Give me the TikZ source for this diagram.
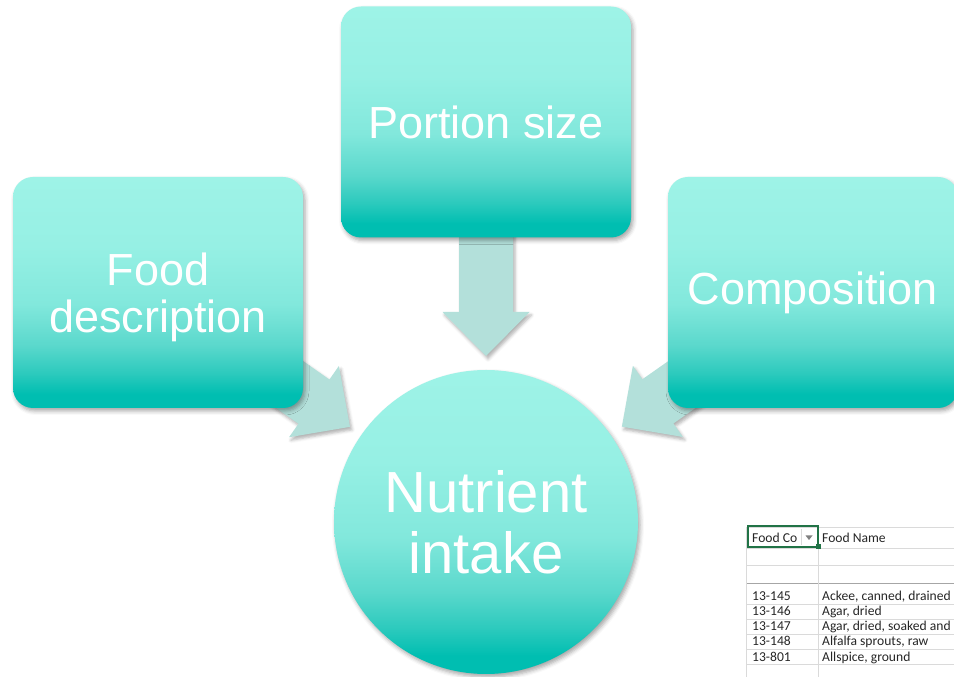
\documentclass[tikz,border=0pt]{standalone}
\usepackage{fontspec}
\setmainfont{Liberation Sans}
\newfontfamily\cellfont{Carlito}
\usetikzlibrary{calc,shadows.blur}
\pgfdeclarelayer{back}
\pgfsetlayers{back,main}

\definecolor{tealtop}{HTML}{9EF3E7}
\definecolor{tealhigh}{HTML}{96F0E4}
\definecolor{tealupper}{HTML}{82E8DC}
\definecolor{teallower}{HTML}{5AD8CC}
\definecolor{tealdeep}{HTML}{2CCABD}
\definecolor{tealbot}{HTML}{00BEB1}
\definecolor{arrowfill}{HTML}{B3E0DA}
\definecolor{gridgray}{HTML}{DADADA}
\definecolor{griddark}{HTML}{A6A6A6}
\definecolor{selgreen}{HTML}{217346}
\definecolor{celltext}{HTML}{262626}

% vertical teal gradient; 25bp = bottom of the shape, 75bp = top
\pgfdeclareverticalshading{tealgrad}{100bp}{color(0bp)=(tealbot); color(25bp)=(tealbot); color(28bp)=(tealbot); color(32.5bp)=(tealdeep); color(38.5bp)=(teallower); color(47.5bp)=(tealupper); color(60bp)=(tealhigh); color(75bp)=(tealtop); color(100bp)=(tealtop)}

\tikzset{
  softshadow/.style={blur shadow={shadow xshift=2pt, shadow yshift=-3pt, shadow blur radius=4pt, shadow opacity=35}},
  box/.style={rectangle, rounded corners=20pt, minimum width=290pt, minimum height=231pt,
    inner sep=0pt, shading=tealgrad, text=white, align=center,
    font=\fontsize{45}{47}\selectfont, softshadow},
  hub/.style={circle, minimum size=304pt, inner sep=0pt, shading=tealgrad, text=white,
    align=center, font=\fontsize{58}{61}\selectfont, softshadow},
  flowarrow/.style={fill=arrowfill, blur shadow={shadow xshift=2pt, shadow yshift=-3pt, shadow blur radius=3pt, shadow opacity=30}},
  cell/.style={inner sep=0pt, text=celltext, font=\cellfont\fontsize{13.6}{16}\selectfont},
  gridline/.style={gridgray, line width=0.7pt},
}

% block arrow from the centre of box #1 towards hub #2
\newcommand\blockarrow[2]{%
  \coordinate (T) at ($(#2.center)!166pt!(#1.center)$);
  \coordinate (H) at ($(T)!44pt!(#1.center)$);
  \fill[flowarrow] (T)
    -- ($(H)!43.5pt!90:(#1.center)$) -- ($(H)!27pt!90:(#1.center)$)
    -- ($(#1.center)!27pt!-90:(H)$) -- ($(#1.center)!27pt!90:(H)$)
    -- ($(H)!27pt!-90:(#1.center)$) -- ($(H)!43.5pt!-90:(#1.center)$)
    -- cycle;
}

\begin{document}
\begin{tikzpicture}[x=1pt,y=1pt]
\useasboundingbox (0,0) rectangle (954,677);

% the three inputs and the result
\node[box, text depth=0pt] (food) at (158,384.5) {Food\\description};
\node[box] (portion) at (486,555) {Portion size};
\node[box] (comp) at (813,384.5) {Composition};
\node[hub] (nut) at (486,155) {Nutrient\\intake};

\begin{pgfonlayer}{back}
  \blockarrow{food}{nut}
  \blockarrow{portion}{nut}
  \blockarrow{comp}{nut}
\end{pgfonlayer}

% spreadsheet excerpt
\draw[gridline] (746,150) -- (954,150);
\draw[gridline] (746,129) -- (954,129);
\draw[gridline] (746,112) -- (954,112);
\draw[griddark, line width=0.8pt] (746,94) -- (954,94);
\foreach \y in {73,58,43,28,13}
  \draw[gridline] (746,\y) -- (954,\y);
\draw[gridline] (746,0) -- (746,150);
\draw[gridline] (818,0) -- (818,150);
\draw[gridline] (801,132) -- (801,148);
\fill[gray] (805.5,141.5) -- (812.5,141.5) -- (809,137) -- cycle;
\draw[selgreen, line width=1.8pt] (748,130) rectangle (818,151);
\fill[selgreen] (815.5,127.5) rectangle (820.5,132.5);

\node[cell, anchor=base west] (hcode) at (752,134) {Food Co};
\node[cell, anchor=base west] (hname) at (822,134) {Food Name};

\node[cell, anchor=base west] (c1) at (752,76.5) {13-145};
\node[cell, anchor=base west] (n1) at (822,76.5) {Ackee, canned, drained};
\node[cell, anchor=base west] (c2) at (752,61.5) {13-146};
\node[cell, anchor=base west] (n2) at (822,61.5) {Agar, dried};
\node[cell, anchor=base west] (c3) at (752,46.5) {13-147};
\node[cell, anchor=base west] (n3) at (822,46.5) {Agar, dried, soaked and drained};
\node[cell, anchor=base west] (c4) at (752,31.5) {13-148};
\node[cell, anchor=base west] (n4) at (822,31.5) {Alfalfa sprouts, raw};
\node[cell, anchor=base west] (c5) at (752,15.5) {13-801};
\node[cell, anchor=base west] (n5) at (822,15.5) {Allspice, ground};
\end{tikzpicture}
\end{document}
